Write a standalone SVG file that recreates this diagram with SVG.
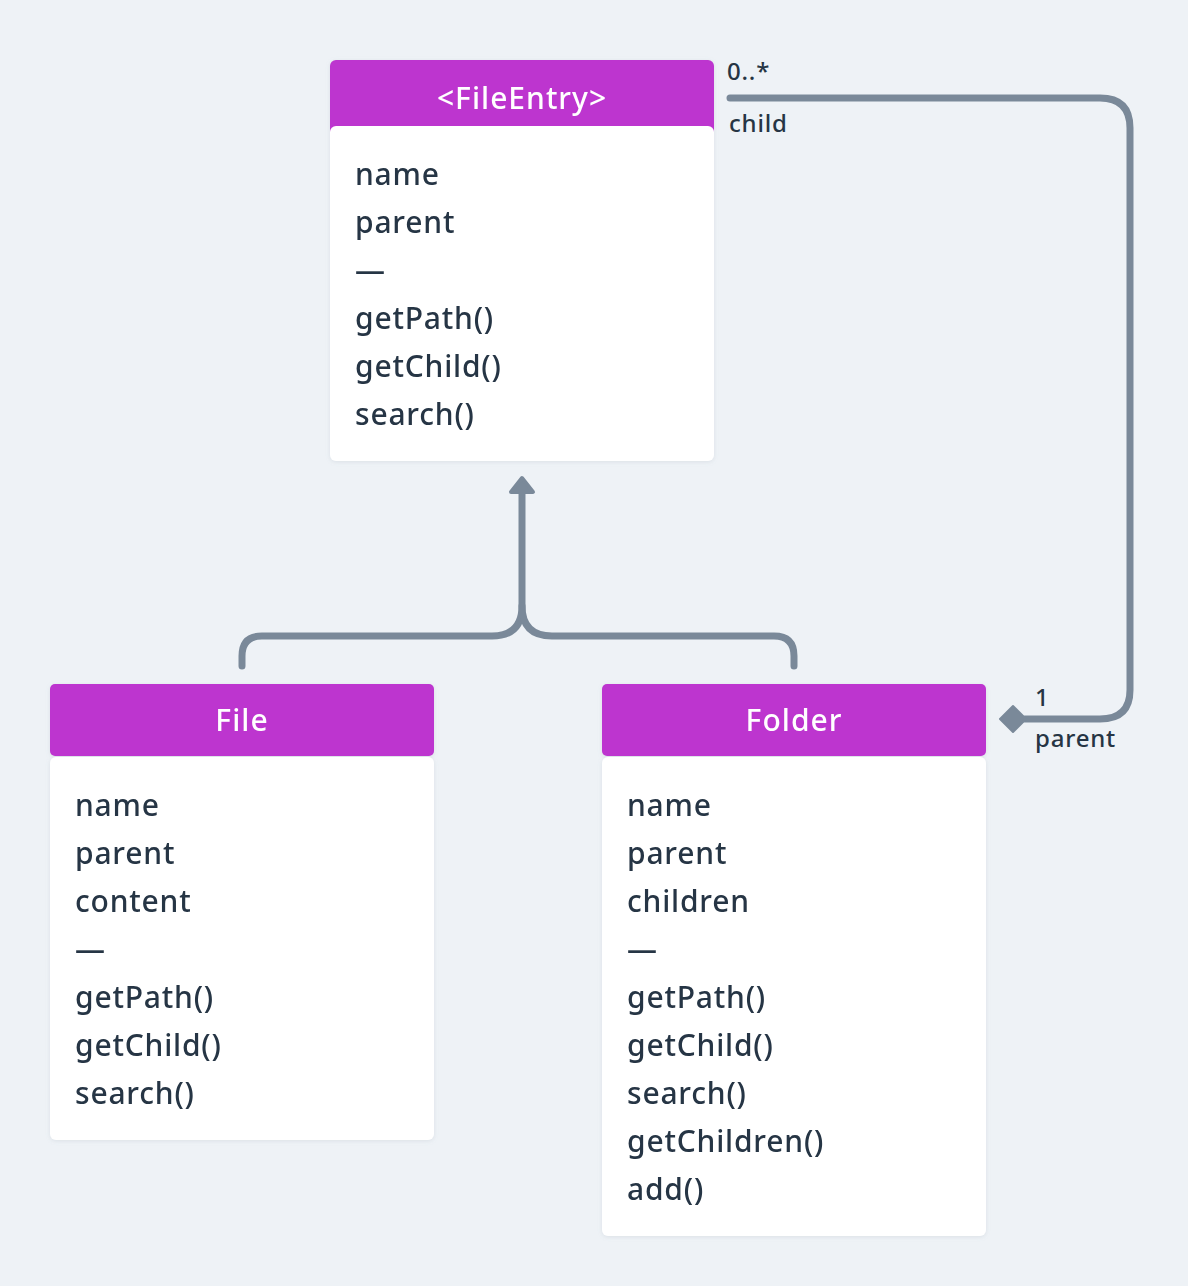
<svg xmlns="http://www.w3.org/2000/svg" width="1188" height="1286" viewBox="0 0 1188 1286">
<style>
.bg{fill:#eef2f6}
.hdr{fill:#bd34cf}
.body{fill:#ffffff}
.ht{font-family:"Noto Sans","Open Sans",sans-serif;font-size:30px;font-weight:500;letter-spacing:1px;fill:#ffffff;text-anchor:middle}
.bt{font-family:"Noto Sans","Open Sans",sans-serif;font-size:30px;font-weight:500;letter-spacing:0.8px;fill:#263544}
.lbl{font-family:"Noto Sans","Open Sans",sans-serif;font-size:24px;font-weight:500;letter-spacing:0.8px;fill:#263544}
.conn{fill:none;stroke:#7a8999;stroke-width:7;stroke-linecap:round;stroke-linejoin:round}
</style>
<defs>
<filter id="sh" x="-5%" y="-5%" width="110%" height="110%">
<feDropShadow dx="0" dy="1" stdDeviation="2" flood-color="#8090a0" flood-opacity="0.18"/>
</filter>
</defs>
<rect class="bg" x="0" y="0" width="1188" height="1286"/>

<g id="connectors">
<path class="conn" d="M522,492 L522,606 Q522,636 492,636 L262,636 Q242,636 242,656 L242,666"/>
<path class="conn" d="M522,606 Q522,636 552,636 L774,636 Q794,636 794,656 L794,666"/>
<polygon points="522,478 533,492 511,492" fill="#7a8999" stroke="#7a8999" stroke-width="4" stroke-linejoin="round"/>
<path class="conn" d="M730,98 L1100,98 Q1130,98 1130,128 L1130,690 Q1130,719 1100,719 L1025,719"/>
<polygon points="1000,719 1013,706 1026,719 1013,732" fill="#7a8999" stroke="#7a8999" stroke-width="2" stroke-linejoin="round"/>
<text class="lbl" x="727" y="80">0..*</text>
<text class="lbl" x="729" y="132">child</text>
<text class="lbl" x="1035" y="706">1</text>
<text class="lbl" x="1035" y="747">parent</text>
</g>

<g id="FileEntry" filter="url(#sh)">
<rect class="hdr" x="330" y="60" width="384" height="76" rx="6"/>
<rect class="body" x="330" y="126" width="384" height="335" rx="6"/>
<text class="ht" x="522" y="109">&lt;FileEntry&gt;</text>
<text class="bt" x="355" y="185">name</text>
<text class="bt" x="355" y="233">parent</text>
<text class="bt" x="355" y="281">—</text>
<text class="bt" x="355" y="329">getPath()</text>
<text class="bt" x="355" y="377">getChild()</text>
<text class="bt" x="355" y="425">search()</text>
</g>

<g id="File" filter="url(#sh)">
<rect class="hdr" x="50" y="684" width="384" height="72" rx="5"/>
<rect class="body" x="50" y="757" width="384" height="383" rx="6"/>
<text class="ht" x="242" y="731">File</text>
<text class="bt" x="75" y="816">name</text>
<text class="bt" x="75" y="864">parent</text>
<text class="bt" x="75" y="912">content</text>
<text class="bt" x="75" y="960">—</text>
<text class="bt" x="75" y="1008">getPath()</text>
<text class="bt" x="75" y="1056">getChild()</text>
<text class="bt" x="75" y="1104">search()</text>
</g>

<g id="Folder" filter="url(#sh)">
<rect class="hdr" x="602" y="684" width="384" height="72" rx="5"/>
<rect class="body" x="602" y="757" width="384" height="479" rx="6"/>
<text class="ht" x="794" y="731">Folder</text>
<text class="bt" x="627" y="816">name</text>
<text class="bt" x="627" y="864">parent</text>
<text class="bt" x="627" y="912">children</text>
<text class="bt" x="627" y="960">—</text>
<text class="bt" x="627" y="1008">getPath()</text>
<text class="bt" x="627" y="1056">getChild()</text>
<text class="bt" x="627" y="1104">search()</text>
<text class="bt" x="627" y="1152">getChildren()</text>
<text class="bt" x="627" y="1200">add()</text>
</g>
</svg>
